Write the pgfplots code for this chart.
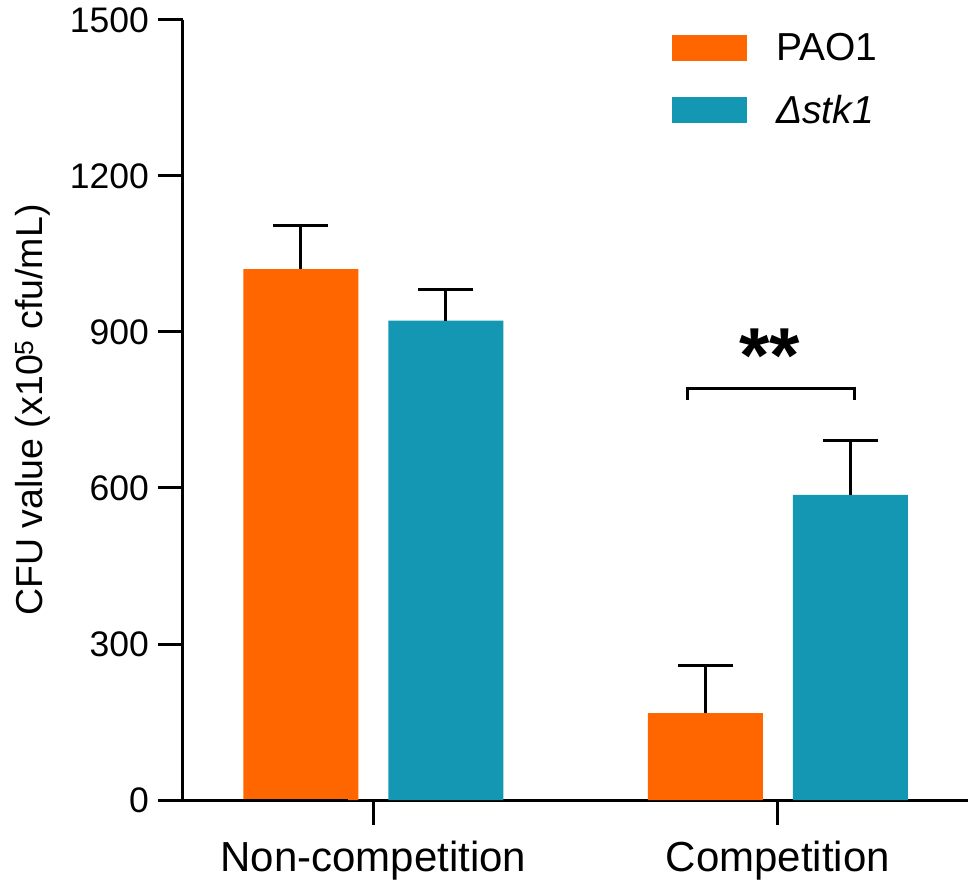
\documentclass[border=0pt]{standalone}
\usepackage{fontspec}
\setmainfont{Liberation Sans}
\usepackage{pgfplots}
\pgfplotsset{compat=1.18}
\definecolor{pao}{HTML}{FF6600}
\definecolor{stk}{HTML}{1397B2}
\begin{document}
\begin{tikzpicture}
\path[use as bounding box] (-183pt,-87pt) rectangle (792pt,800pt);
\begin{axis}[
  at={(0pt,0pt)}, anchor=south west,
  scale only axis, width=785pt, height=780pt,
  xmin=-0.471, xmax=1.470, ymin=0, ymax=1500,
  axis lines=left, axis line style={-, line width=3pt, black},
  ytick={0,300,600,900,1200,1500},
  xtick={0,1}, xticklabels={Non-competition,Competition},
  tick align=outside, major tick length=25pt,
  tick style={line width=3pt, black},
  /pgf/number format/assume math mode=true,
  /pgf/number format/1000 sep={},
  yticklabel style={font=\fontsize{35.5}{40}\selectfont, anchor=east, inner sep=0pt, xshift=-9pt},
  xticklabel style={font=\fontsize{42}{46}\selectfont, anchor=north, inner sep=0pt, yshift=-16pt},
  ylabel={CFU value (x10\textsuperscript{5} cfu/mL)},
  ylabel style={font=\fontsize{37.5}{42}\selectfont, at={(rel axis cs:-0.1784,0.5)}, anchor=base, inner sep=0pt},
  ybar=30pt, bar width=115pt,
  legend style={at={(rel axis cs:0.623,0.983)}, anchor=north west, draw=none, fill=none,
    inner sep=0pt, outer sep=0pt, row sep=33pt,
    font=\fontsize{39}{44}\selectfont,
    nodes={inner sep=0pt},
    /tikz/every odd column/.append style={column sep=29pt}},
  legend cell align=left,
  legend image code/.code={\fill[#1] (0pt,-13pt) rectangle (75pt,13pt);},
  clip=false,
]
\addplot[fill=pao, draw=none,
  error bars/.cd, y dir=plus, y explicit,
  error bar style={line width=3pt, black},
  error mark options={rotate=90, line width=3pt, black, mark size=27.5pt}]
  coordinates {(0,1021) +- (0,83) (1,167) +- (0,92)};
\addplot[fill=stk, draw=none,
  error bars/.cd, y dir=plus, y explicit,
  error bar style={line width=3pt, black},
  error mark options={rotate=90, line width=3pt, black, mark size=27.5pt}]
  coordinates {(0,922) +- (0,59) (1,587) +- (0,105)};
\legend{PAO1, \textit{Δstk1}}
\draw[line width=3pt] (axis cs:0.7775,769) -- (axis cs:0.7775,792) -- (axis cs:1.190,792) -- (axis cs:1.190,769);
\node[anchor=north, inner sep=0pt, font=\bfseries\fontsize{78}{80}\selectfont] at (axis cs:0.980,906) {**};
\draw[line width=3pt] (rel axis cs:0,0) -- ++(-25pt,0);
\end{axis}
\end{tikzpicture}
\end{document}
